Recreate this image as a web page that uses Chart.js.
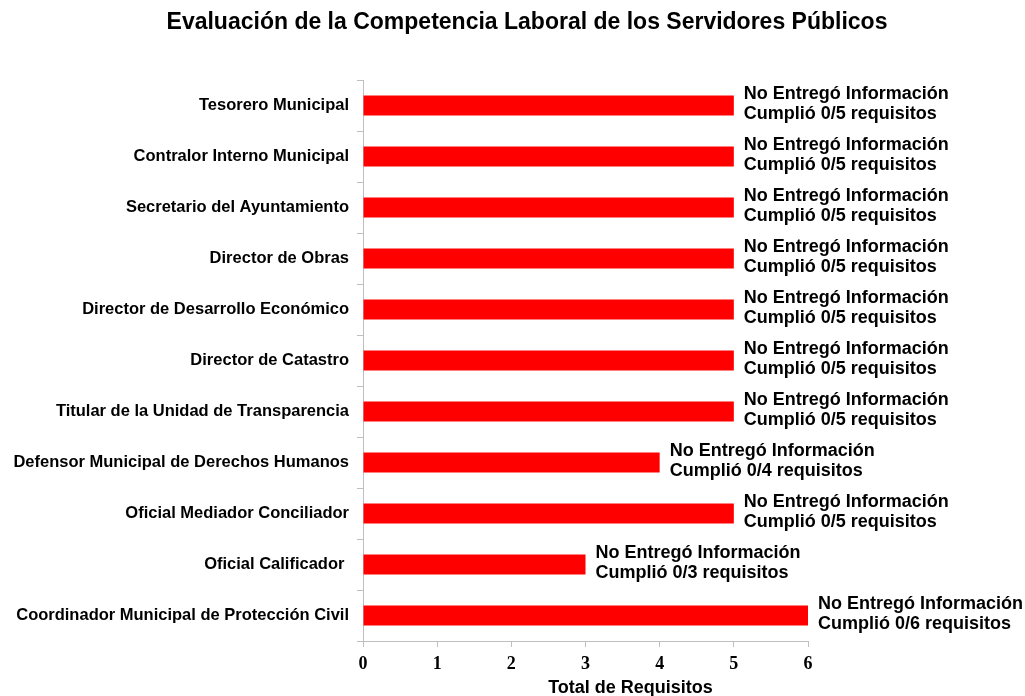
<!DOCTYPE html>
<html>
<head>
<meta charset="utf-8">
<script src="https://cdn.jsdelivr.net/npm/chart.js@4/dist/chart.umd.min.js"></script>
<style>
  html, body { margin: 0; padding: 0; background: #ffffff; }
  #wrap { width: 1025px; height: 696px; position: relative; }
</style>
</head>
<body>
<div id="wrap"><canvas id="c" width="1025" height="696"></canvas></div>
<script>
const chartTitle = "Evaluación de la Competencia Laboral de los Servidores Públicos";
const categories = [
  "Tesorero Municipal",
  "Contralor Interno Municipal",
  "Secretario del Ayuntamiento",
  "Director de Obras",
  "Director de Desarrollo Económico",
  "Director de Catastro",
  "Titular de la Unidad de Transparencia",
  "Defensor Municipal de Derechos Humanos",
  "Oficial Mediador Conciliador",
  "Oficial Calificador ",
  "Coordinador Municipal de Protección Civil"
];
const totalRequisitos = [5, 5, 5, 5, 5, 5, 5, 4, 5, 3, 6];
const cumplidos = [0, 0, 0, 0, 0, 0, 0, 0, 0, 0, 0];
const labelLine1 = ["No Entregó Información", "No Entregó Información", "No Entregó Información", "No Entregó Información", "No Entregó Información", "No Entregó Información", "No Entregó Información", "No Entregó Información", "No Entregó Información", "No Entregó Información", "No Entregó Información"];
const xTicks = [0, 1, 2, 3, 4, 5, 6];
const xAxisTitle = "Total de Requisitos";

const sansFont = "'Liberation Sans', Arial, sans-serif";
const serifFont = "'Liberation Serif', 'Times New Roman', serif";

const labelPlugin = {
  id: 'barLabels',
  afterDatasetsDraw(chart) {
    const ctx = chart.ctx;
    const meta = chart.getDatasetMeta(0);
    ctx.save();
    ctx.fillStyle = '#000000';
    ctx.font = 'bold 18px ' + sansFont;
    ctx.textAlign = 'left';
    ctx.textBaseline = 'middle';
    meta.data.forEach((bar, i) => {
      const x = bar.x + 10;
      const y = bar.y;
      ctx.fillText(labelLine1[i], x, y - 11);
      ctx.fillText("Cumplió " + cumplidos[i] + "/" + totalRequisitos[i] + " requisitos", x, y + 9);
    });
    ctx.restore();
  },
  afterDraw(chart) {
    const ctx = chart.ctx;
    const xs = chart.scales.x;
    ctx.save();
    ctx.fillStyle = '#000000';
    ctx.textAlign = 'center';
    ctx.textBaseline = 'middle';
    ctx.font = 'bold 23px ' + sansFont;
    ctx.fillText(chartTitle, 527, 23);
    ctx.font = 'bold 18px ' + sansFont;
    ctx.fillText(xAxisTitle, (xs.left + xs.right) / 2 + 45, 688);
    ctx.restore();
  }
};

new Chart(document.getElementById('c'), {
  type: 'bar',
  data: {
    labels: categories,
    datasets: [{
      data: totalRequisitos,
      backgroundColor: '#ff0000',
      borderWidth: 0,
      barPercentage: 0.39,
      categoryPercentage: 1.0
    }]
  },
  options: {
    indexAxis: 'y',
    responsive: false,
    animation: false,
    devicePixelRatio: 1,
    layout: { padding: { top: 80, right: 217, left: 0, bottom: 0 } },
    plugins: {
      legend: { display: false },
      tooltip: { enabled: false },
      title: { display: false }
    },
    scales: {
      x: {
        min: 0,
        max: 6,
        afterBuildTicks(scale) { scale.ticks = xTicks.map(v => ({ value: v })); },
        afterFit(scale) { scale.height = 55; },
        border: { display: true, color: '#bfbfbf', width: 1 },
        grid: { display: true, drawOnChartArea: false, drawTicks: true, tickLength: 6, color: '#bfbfbf' },
        ticks: {
          color: '#000000',
          padding: 7,
          font: { family: serifFont, size: 18, weight: 'bold' }
        },
        title: { display: false }
      },
      y: {
        afterFit(scale) { scale.width = 363; },
        border: { display: true, color: '#bfbfbf', width: 1 },
        grid: { display: true, drawOnChartArea: false, drawTicks: true, tickLength: 6, color: '#bfbfbf', offset: true },
        ticks: {
          color: '#000000',
          padding: 8,
          font: { family: sansFont, size: 16.5, weight: 'bold' }
        }
      }
    }
  },
  plugins: [labelPlugin]
});
</script>
</body>
</html>
